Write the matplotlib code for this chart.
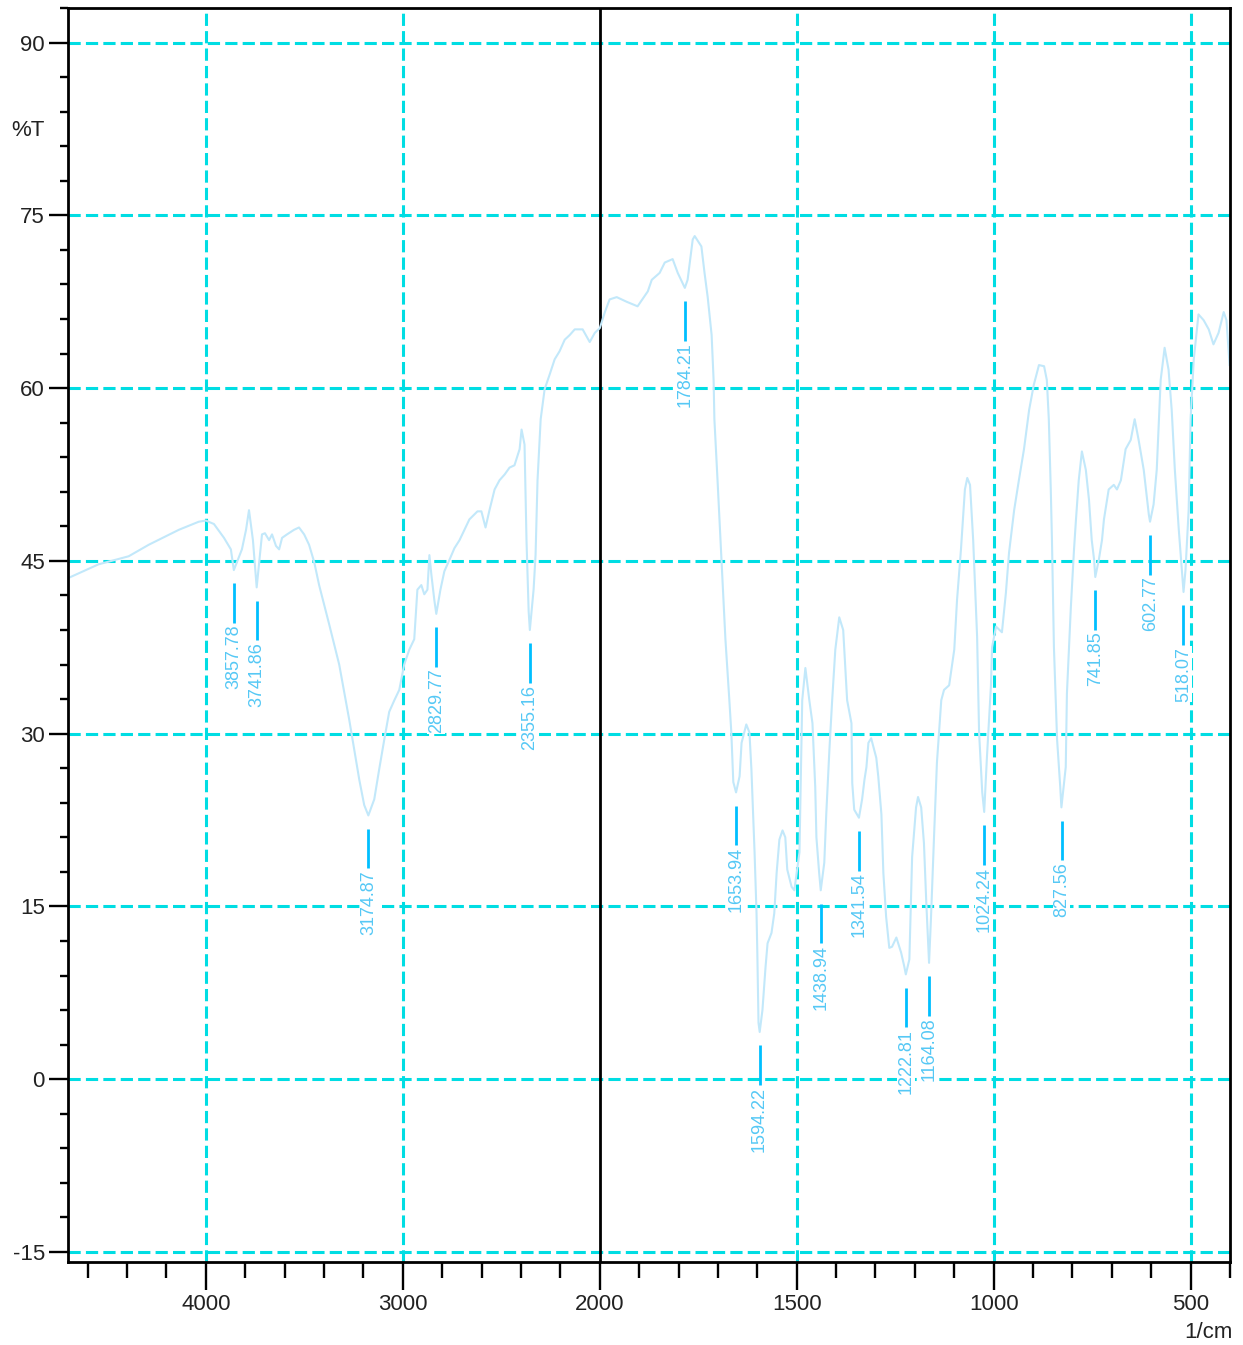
import numpy as np
import matplotlib
matplotlib.use('Agg')
import matplotlib.pyplot as plt
from matplotlib.ticker import FixedLocator, FixedFormatter

plt.rcParams['font.family'] = ['Liberation Sans', 'DejaVu Sans']
plt.rcParams['axes.unicode_minus'] = False

# ---------------- data ----------------
wavenumber = [4700, 4545, 4392, 4290, 4137, 4036, 4000, 3959, 3908, 3873, 3858, 3817, 3796, 3781,
              3761, 3742, 3715, 3700, 3679, 3664, 3644, 3628, 3613, 3588, 3552, 3527, 3501, 3476,
              3450, 3425, 3374, 3323, 3272, 3221, 3196, 3175, 3145, 3120, 3094, 3069, 3043, 3018,
              2993, 2967, 2942, 2926, 2906, 2891, 2875, 2865, 2855, 2840, 2830, 2809, 2789, 2763,
              2738, 2712, 2687, 2662, 2621, 2601, 2580, 2560, 2534, 2509, 2483, 2458, 2433, 2407,
              2397, 2382, 2372, 2361, 2355, 2336, 2326, 2316, 2300, 2280, 2254, 2229, 2204, 2178,
              2153, 2127, 2087, 2051, 2025, 2000, 1987, 1975, 1957, 1932, 1904, 1878, 1868, 1848,
              1835, 1815, 1802, 1784, 1777, 1764, 1759, 1742, 1734, 1726, 1716, 1711, 1709, 1701,
              1691, 1681, 1671, 1666, 1661, 1654, 1645, 1640, 1628, 1620, 1615, 1607, 1602, 1600,
              1597, 1594, 1587, 1579, 1574, 1564, 1557, 1551, 1544, 1536, 1529, 1524, 1513, 1506,
              1493, 1486, 1478, 1468, 1460, 1453, 1450, 1443, 1439, 1430, 1425, 1417, 1410, 1402,
              1392, 1382, 1372, 1361, 1359, 1354, 1342, 1334, 1328, 1323, 1318, 1311, 1298, 1293,
              1285, 1280, 1273, 1265, 1258, 1247, 1235, 1227, 1223, 1214, 1207, 1197, 1192, 1184,
              1177, 1171, 1164, 1159, 1151, 1144, 1133, 1126, 1113, 1100, 1093, 1083, 1073, 1067,
              1060, 1052, 1042, 1037, 1029, 1024, 1017, 1007, 1004, 994, 979, 969, 961, 948,
              936, 923, 910, 898, 885, 872, 865, 860, 855, 852, 847, 839, 831, 828,
              817, 814, 804, 796, 791, 784, 776, 766, 758, 751, 745, 742, 733, 725,
              720, 708, 695, 687, 677, 665, 652, 642, 632, 619, 606, 603, 594, 586,
              576, 566, 556, 548, 540, 530, 518, 513, 505, 500, 492, 480, 467, 454,
              442, 429, 416, 409, 401]
transmittance = [43.5, 44.7, 45.4, 46.4, 47.7, 48.4, 48.5, 48.2, 47.0, 46.0, 44.2, 46.0, 47.7, 49.4,
                 46.8, 42.7, 47.3, 47.4, 46.8, 47.3, 46.3, 46.0, 47.0, 47.3, 47.7, 47.9, 47.3, 46.4,
                 44.9, 42.9, 39.5, 36.0, 31.2, 26.0, 23.8, 22.9, 24.3, 26.9, 29.5, 31.9, 32.9, 33.8,
                 36.0, 37.3, 38.2, 42.5, 42.9, 42.1, 42.5, 45.5, 43.8, 41.6, 40.4, 42.5, 44.1, 45.1,
                 46.1, 46.8, 47.7, 48.6, 49.3, 49.3, 47.9, 49.4, 51.2, 52.0, 52.5, 53.1, 53.3, 54.7,
                 56.4, 55.1, 46.8, 40.6, 39.0, 42.5, 45.5, 52.0, 57.3, 59.9, 61.2, 62.5, 63.2, 64.2,
                 64.6, 65.1, 65.1, 64.0, 64.8, 65.2, 66.6, 67.7, 67.9, 67.5, 67.1, 68.4, 69.4, 70.0,
                 70.9, 71.2, 70.0, 68.7, 69.4, 72.9, 73.2, 72.3, 70.0, 67.9, 64.6, 60.7, 57.3, 52.0,
                 45.1, 38.2, 32.9, 30.1, 25.8, 24.9, 26.3, 29.2, 30.8, 30.1, 26.9, 19.7, 14.4, 11.0,
                 4.9, 4.1, 6.0, 9.8, 11.8, 12.7, 14.4, 17.9, 20.8, 21.6, 21.0, 18.2, 16.7, 16.4,
                 19.7, 32.9, 35.7, 32.9, 30.9, 25.4, 21.0, 17.9, 16.4, 18.8, 23.0, 28.6, 32.9, 37.3,
                 40.1, 39.0, 32.9, 30.9, 25.7, 23.4, 22.7, 24.3, 26.0, 27.1, 29.2, 29.6, 27.9, 26.3,
                 23.0, 17.9, 14.1, 11.4, 11.5, 12.3, 11.0, 9.8, 9.1, 10.4, 19.3, 23.6, 24.5, 23.6,
                 20.5, 15.3, 10.1, 14.1, 21.4, 27.5, 32.9, 33.8, 34.2, 37.3, 41.6, 46.0, 51.2, 52.2,
                 51.6, 46.8, 38.4, 30.1, 24.9, 23.2, 28.0, 34.1, 37.5, 39.3, 38.8, 42.2, 45.7, 49.4,
                 52.0, 54.7, 58.1, 60.3, 62.0, 61.9, 60.7, 57.3, 51.2, 46.8, 37.5, 29.5, 25.4, 23.6,
                 27.1, 33.5, 41.0, 46.0, 48.6, 52.0, 54.5, 52.9, 50.3, 46.8, 45.1, 43.6, 45.1, 46.8,
                 48.6, 51.2, 51.6, 51.2, 52.0, 54.7, 55.5, 57.3, 55.5, 52.9, 49.0, 48.4, 49.9, 52.9,
                 60.7, 63.5, 61.6, 58.1, 52.9, 47.7, 42.3, 44.2, 49.4, 57.3, 62.5, 66.4, 65.9, 65.1,
                 63.8, 64.8, 66.6, 65.9, 62.0]

peak_wn = [3857.78, 3741.86, 3174.87, 2829.77, 2355.16, 1784.21, 1653.94, 1594.22, 1438.94,
           1341.54, 1222.81, 1164.08, 1024.24, 827.56, 741.85, 602.77, 518.07]
peak_T = [44.2, 42.7, 22.9, 40.4, 39.0, 68.7, 24.9, 4.1, 16.4,
          22.7, 9.1, 10.1, 23.2, 23.6, 43.6, 48.4, 42.3]
peak_labels = ["3857.78", "3741.86", "3174.87", "2829.77", "2355.16", "1784.21", "1653.94",
               "1594.22", "1438.94", "1341.54", "1222.81", "1164.08", "1024.24", "827.56",
               "741.85", "602.77", "518.07"]

x_major = [4000, 3000, 2000, 1500, 1000, 500]
x_major_labels = ["4000", "3000", "2000", "1500", "1000", "500"]
x_minor = [4600, 4400, 4200, 3800, 3600, 3400, 3200, 2800, 2600, 2400, 2200,
           1900, 1800, 1700, 1600, 1400, 1300, 1200, 1100, 900, 800, 700, 600, 400]
y_major = [90, 75, 60, 45, 30, 15, 0, -15]
y_major_labels = ["90", "75", "60", "45", "30", "15", "0", "-15"]
y_minor = [93, 87, 84, 81, 78, 72, 69, 66, 63, 57, 54, 51, 48, 42, 39, 36, 33,
           27, 24, 21, 18, 12, 9, 6, 3, -3, -6, -9, -12]


# ------------- scale with break at 2000 (double expansion below) -------------
def fwd(w):
    w = np.asarray(w, dtype=float)
    return np.where(w <= 2000, w, 2000 + (w - 2000) / 2.0)


def inv(u):
    u = np.asarray(u, dtype=float)
    return np.where(u <= 2000, u, 2000 + (u - 2000) * 2.0)


W, H = 1243, 1345
fig = plt.figure(figsize=(W / 100, H / 100), dpi=100)
ax = fig.add_axes([68 / W, 1 - 1262 / H, (1230 - 68) / W, (1262 - 8) / H])
ax.set_xscale('function', functions=(fwd, inv))
ax.set_xlim(4700, 400)
ax.set_ylim(-15.87, 93)

grid_color = '#00DDE3'
grid_ls = (0, (4, 1.7))
for y in y_major:
    ax.axhline(y, color=grid_color, lw=2.2, ls=grid_ls, zorder=1)
for x in x_major:
    if x == 2000:
        ax.axvline(x, color='black', lw=2.0, zorder=1.5)
    else:
        ax.axvline(x, color=grid_color, lw=2.2, ls=grid_ls, zorder=1)

ax.plot(wavenumber, transmittance, color='#C2E8FA', lw=1.5, zorder=2)

for w, t, lab in zip(peak_wn, peak_T, peak_labels):
    ax.plot([w, w], [t - 1.15, t - 4.6], color='#00BFFF', lw=2.0,
            solid_capstyle='butt', zorder=3)
    ax.text(w, t - 4.75, lab, rotation=90, ha='center', va='top',
            fontsize=13, color='#55C8F5', zorder=3,
            bbox=dict(boxstyle='square,pad=0.02', facecolor='white', edgecolor='none'))

ax.xaxis.set_major_locator(FixedLocator(x_major))
ax.xaxis.set_major_formatter(FixedFormatter(x_major_labels))
ax.xaxis.set_minor_locator(FixedLocator(x_minor))
ax.yaxis.set_major_locator(FixedLocator(y_major))
ax.yaxis.set_major_formatter(FixedFormatter(y_major_labels))
ax.yaxis.set_minor_locator(FixedLocator(y_minor))

ax.tick_params(axis='x', which='major', direction='out', length=20, width=1.7,
               labelsize=16, pad=3, colors='black', labelcolor='#222222')
ax.tick_params(axis='x', which='minor', direction='out', length=11.5, width=1.7)
ax.tick_params(axis='y', which='major', direction='out', length=13.7, width=1.7,
               labelsize=16, pad=3, labelcolor='#222222')
ax.tick_params(axis='y', which='minor', direction='out', length=5.8, width=1.7)
for s in ax.spines.values():
    s.set_linewidth(2.0)
    s.set_color('black')

fig.text(28 / W, 1 - 130 / H, '%T', ha='center', va='center', fontsize=16, color='#222222')
fig.text(1208 / W, 1 - 1333 / H, '1/cm', ha='center', va='center', fontsize=16, color='#222222')

fig.savefig('out.png', dpi=100, facecolor='white')
